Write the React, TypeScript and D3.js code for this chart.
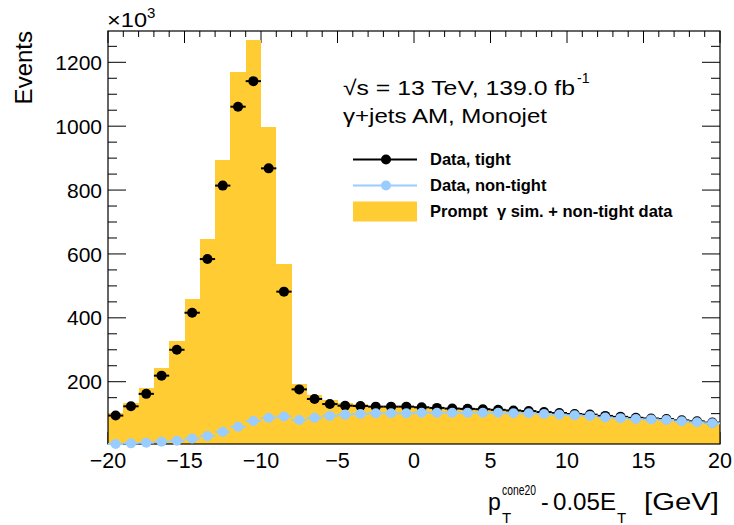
import React from 'react';
import * as d3 from 'd3';

// Bin centres (GeV), 1 GeV bins from -20 to 20
const binCenters = [
  -19.5, -18.5, -17.5, -16.5, -15.5, -14.5, -13.5, -12.5, -11.5, -10.5,
  -9.5, -8.5, -7.5, -6.5, -5.5, -4.5, -3.5, -2.5, -1.5, -0.5,
  0.5, 1.5, 2.5, 3.5, 4.5, 5.5, 6.5, 7.5, 8.5, 9.5,
  10.5, 11.5, 12.5, 13.5, 14.5, 15.5, 16.5, 17.5, 18.5, 19.5,
];
const binWidth = 1;

// Events (x10^3)
const promptPlusNonTight = [
  103, 134, 179, 242, 328, 458, 646, 893, 1171, 1270,
  998, 568, 193, 158, 143, 134, 130, 125, 123, 122,
  121, 119, 117, 116, 114, 113, 111, 109, 106, 103,
  100, 98, 95, 92, 89, 86, 84, 81, 78, 75,
];
const dataTight = [
  94, 123, 162, 219, 300, 416, 584, 814, 1061, 1141,
  868, 482, 176, 146, 130, 125, 124, 122, 122, 122,
  120, 118, 116, 115, 114, 112, 110, 108, 105, 102,
  99, 97, 93, 90, 87, 85, 83, 79, 76, 72,
];
const dataNonTight = [
  5, 7, 9, 12, 15, 22, 30, 43, 59, 77,
  87, 91, 80, 87, 93, 97, 99, 101, 101, 101,
  103, 103, 103, 103, 103, 103, 101, 101, 99, 97,
  95, 93, 88, 86, 83, 82, 80, 76, 73, 70,
];

const xMajorTicks = [-20, -15, -10, -5, 0, 5, 10, 15, 20];
const xTickLabels = ['\u221220', '\u221215', '\u221210', '\u22125', '0', '5', '10', '15', '20'];
const yMajorTicks = [200, 400, 600, 800, 1000, 1200];
const yTickLabels = ['200', '400', '600', '800', '1000', '1200'];

const legendLabels = ['Data, tight', 'Data, non-tight', 'Prompt\u00a0\u00a0\u03b3 sim. + non-tight data'];

const YELLOW = '#ffcc33';
const BLUE = '#99ccff';
const FONT = '"Liberation Sans", Arial, Helvetica, sans-serif';

export default function App() {
  const W = 734, H = 525;
  const L = 108, R = 720, T = 31, B = 444;
  const x = d3.scaleLinear().domain([-20, 20]).range([L, R]);
  const y = d3.scaleLinear().domain([5, 1298]).range([B, T]);

  const xMinor = d3.range(-20, 21, 1).filter((v) => v % 5 !== 0);
  const yMinor = d3.range(50, 1300, 50).filter((v) => v % 200 !== 0);

  const stepPts: [number, number][] = binCenters.map((c, i) => [c - binWidth / 2, promptPlusNonTight[i]]);
  stepPts.push([binCenters[binCenters.length - 1] + binWidth / 2, promptPlusNonTight[promptPlusNonTight.length - 1]]);
  const area = d3
    .area<[number, number]>()
    .curve(d3.curveStepAfter)
    .x((d) => x(d[0]))
    .y0(B)
    .y1((d) => y(d[1]));

  const yMajLen = 18, yMinLen = 9, xMajLen = 12, xMinLen = 6;

  const markerSeries = (vals: number[], color: string, key: string) => (
    <g key={key}>
      {vals.map((v, i) => (
        <line
          key={'e' + i}
          x1={x(binCenters[i] - binWidth / 2)}
          x2={x(binCenters[i] + binWidth / 2)}
          y1={y(v)}
          y2={y(v)}
          stroke={color}
          strokeWidth={2}
        />
      ))}
      {vals.map((v, i) => (
        <circle key={'m' + i} cx={x(binCenters[i])} cy={y(v)} r={5} fill={color} />
      ))}
    </g>
  );

  return (
    <svg width={W} height={H} style={{ position: 'absolute', left: 0, top: 0 }} fontFamily={FONT}>
      <rect x={0} y={0} width={W} height={H} fill="white" />
      {/* ticks */}
      <g stroke="black" strokeWidth={1}>
        {yMajorTicks.map((v) => (
          <g key={'ym' + v}>
            <line x1={L} x2={L + yMajLen} y1={y(v)} y2={y(v)} />
            <line x1={R} x2={R - yMajLen} y1={y(v)} y2={y(v)} />
          </g>
        ))}
        {yMinor.map((v) => (
          <g key={'yn' + v}>
            <line x1={L} x2={L + yMinLen} y1={y(v)} y2={y(v)} />
            <line x1={R} x2={R - yMinLen} y1={y(v)} y2={y(v)} />
          </g>
        ))}
        {xMajorTicks.map((v) => (
          <g key={'xm' + v}>
            <line x1={x(v)} x2={x(v)} y1={T} y2={T + xMajLen} />
            <line x1={x(v)} x2={x(v)} y1={B} y2={B - xMajLen} />
          </g>
        ))}
        {xMinor.map((v) => (
          <g key={'xn' + v}>
            <line x1={x(v)} x2={x(v)} y1={T} y2={T + xMinLen} />
            <line x1={x(v)} x2={x(v)} y1={B} y2={B - xMinLen} />
          </g>
        ))}
      </g>
      {/* histogram */}
      <path d={area(stepPts) || ''} fill={YELLOW} shapeRendering="crispEdges" />
      {/* frame */}
      <rect x={L} y={T} width={R - L} height={B - T} fill="none" stroke="black" strokeWidth={1.2} />
      {/* data */}
      {markerSeries(dataTight, 'black', 'tight')}
      {markerSeries(dataNonTight, BLUE, 'nontight')}
      {/* tick labels */}
      {yMajorTicks.map((v, i) => (
        <text key={'yl' + v} x={102} y={y(v)} dy="0.36em" textAnchor="end" fontSize={21}>
          {yTickLabels[i]}
        </text>
      ))}
      {xMajorTicks.map((v, i) => (
        <text key={'xl' + v} x={x(v)} y={468} textAnchor="middle" fontSize={21.5}>
          {xTickLabels[i]}
        </text>
      ))}
      {/* axis multiplier */}
      <text x={107} y={27} fontSize={21} textLength={40} lengthAdjust="spacingAndGlyphs">
        {'\u00d710'}
      </text>
      <text x={147} y={18} fontSize={15}>
        3
      </text>
      {/* y title */}
      <text transform={`translate(32,${T}) rotate(-90)`} textAnchor="end" fontSize={24}>
        Events
      </text>
      {/* x title */}
      <text x={488} y={510} fontSize={23}>p</text>
      <text transform="translate(502,495) scale(0.74,1)" fontSize={14}>cone20</text>
      <text x={502} y={523} fontSize={15}>T</text>
      <text x={541} y={510} fontSize={23}>-</text>
      <text x={553} y={510} fontSize={23} textLength={63} lengthAdjust="spacingAndGlyphs">0.05E</text>
      <text x={617} y={523} fontSize={15}>T</text>
      <text x={719} y={510} textAnchor="end" fontSize={23} textLength={75} lengthAdjust="spacingAndGlyphs">[GeV]</text>
      {/* annotations */}
      <text x={343} y={95} fontSize={21} textLength={232} lengthAdjust="spacingAndGlyphs">
        {'\u221as = 13 TeV, 139.0 fb'}
      </text>
      <text x={577} y={83} fontSize={14}>-1</text>
      <text x={343} y={123} fontSize={21} textLength={204} lengthAdjust="spacingAndGlyphs">
        {'\u03b3+jets AM, Monojet'}
      </text>
      {/* legend */}
      <g>
        <line x1={353} x2={417} y1={159.5} y2={159.5} stroke="black" strokeWidth={2} />
        <circle cx={386} cy={159.5} r={5} fill="black" />
        <text x={430} y={165} fontSize={16.5} fontWeight="bold">{legendLabels[0]}</text>
        <line x1={353} x2={417} y1={185.5} y2={185.5} stroke={BLUE} strokeWidth={2} />
        <circle cx={386} cy={185.5} r={5} fill={BLUE} />
        <text x={430} y={191} fontSize={16.5} fontWeight="bold">{legendLabels[1]}</text>
        <rect x={353} y={201.5} width={64} height={20} fill={YELLOW} />
        <text x={430} y={216.5} fontSize={16.5} fontWeight="bold">{legendLabels[2]}</text>
      </g>
    </svg>
  );
}
